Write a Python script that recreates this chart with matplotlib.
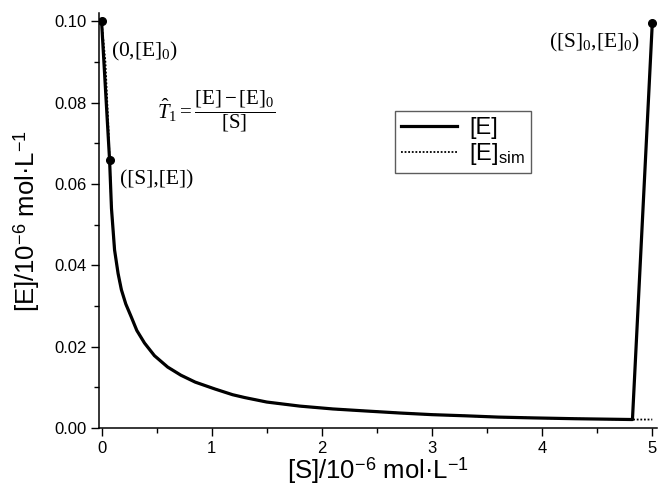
import numpy as np
import matplotlib
matplotlib.use("Agg")
import matplotlib.pyplot as plt

plt.rcParams['font.family'] = ['Liberation Sans', 'DejaVu Sans']
plt.rcParams['mathtext.fontset'] = 'custom'
plt.rcParams['mathtext.rm'] = 'Liberation Serif'
plt.rcParams['mathtext.it'] = 'Liberation Serif:italic'
plt.rcParams['mathtext.sf'] = 'Liberation Sans'

# Datos (unidades 10^-6 mol/L)
s_curva = [0.073, 0.09, 0.118, 0.15, 0.18, 0.22, 0.27, 0.32, 0.39, 0.48,
           0.6, 0.72, 0.85, 1.03, 1.19, 1.3, 1.5, 1.8, 2.1, 2.4, 2.71, 3.0,
           3.32, 3.6, 3.92, 4.3, 4.82]
e_curva = [0.0658, 0.054, 0.0438, 0.038, 0.034, 0.0305, 0.0273, 0.024,
           0.0209, 0.0178, 0.015, 0.013, 0.0113, 0.0096, 0.0082, 0.0075, 0.0064,
           0.0054, 0.0047, 0.0042, 0.0037, 0.0033, 0.0030, 0.0027, 0.0025,
           0.0023, 0.0021]

# [E] experimental: (0,[E]0) -> curva -> cierre hasta ([S]0,[E]0)
s_exp = [0.0] + s_curva + [5.0]
e_exp = [0.1] + e_curva + [0.0995]

# [E]sim: tramo inicial algo separado, misma curva, horizontal hasta [S]0
s_sim = [0.0, 0.035, 0.062] + s_curva + [5.0]
e_sim = [0.1, 0.090, 0.074] + e_curva + [0.0021]

# puntos marcados
s_pts = [0.0, 0.073, 5.0]
e_pts = [0.1, 0.0658, 0.0995]

fig = plt.figure(figsize=(6.58, 4.87), dpi=100)
ax = fig.add_axes([0.151, 0.121, 0.847, 0.852])

ax.plot(s_exp, e_exp, color='black', linewidth=2.3, label='[E]', zorder=3,
        solid_joinstyle='round')
ax.plot(s_sim, e_sim, color='black', linewidth=1.3, linestyle=(0, (1, 1)),
        label=r'[E]$_{\mathsf{sim}}$', zorder=2)
ax.plot(s_pts, e_pts, 'o', color='black', markersize=5.5, zorder=4)

ax.set_xlim(-0.02, 5.04)
ax.set_ylim(0, 0.102)
ax.set_xticks([0, 1, 2, 3, 4, 5])
ax.set_xticks(np.arange(0.5, 5, 1.0), minor=True)
ax.set_yticks([0.0, 0.02, 0.04, 0.06, 0.08, 0.10])
ax.set_yticks([0.01, 0.03, 0.05, 0.07, 0.09], minor=True)
ax.set_yticklabels(['0.00', '0.02', '0.04', '0.06', '0.08', '0.10'])
ax.tick_params(which='major', direction='out', length=6, width=1, labelsize=12,
               pad=3)
ax.tick_params(which='minor', direction='out', length=3.5, width=1)

ax.spines['top'].set_visible(False)
ax.spines['right'].set_visible(False)
ax.spines['left'].set_linewidth(1.1)
ax.spines['bottom'].set_linewidth(1.1)

ax.set_xlabel(r'[S]/10$^{\mathsf{-6}}$ mol·L$^{\mathsf{-1}}$', fontsize=18.5, labelpad=0)
ax.set_ylabel(r'[E]/10$^{\mathsf{-6}}$ mol·L$^{\mathsf{-1}}$', fontsize=18.5, labelpad=9)

# Anotaciones
serif = 'Liberation Serif'
ax.text(0.09, 0.0926, r'(0,[E]$_{\mathrm{0}}$)', fontsize=15.5, family=serif, va='center')
ax.text(0.163, 0.0611, '([S],[E])', fontsize=15.5, family=serif, va='center')
ax.text(4.89, 0.0948, r'([S]$_{\mathrm{0}}$,[E]$_{\mathrm{0}}$)', fontsize=15.5,
        family=serif, va='center', ha='right')
ax.text(0.5, 0.0778, r'$\hat{T}_1 = \dfrac{[\mathrm{E}]-[\mathrm{E}]_0}{[\mathrm{S}]}$',
        fontsize=15, va='center')

leg = ax.legend(loc='lower left', bbox_to_anchor=(0.53, 0.614), fontsize=17,
                frameon=True, fancybox=False, edgecolor='#333333',
                handlelength=2.4, borderpad=0.25, labelspacing=0.1,
                handletextpad=0.5, borderaxespad=0)
leg.get_frame().set_linewidth(1.0)

fig.savefig('out.png', dpi=100)
